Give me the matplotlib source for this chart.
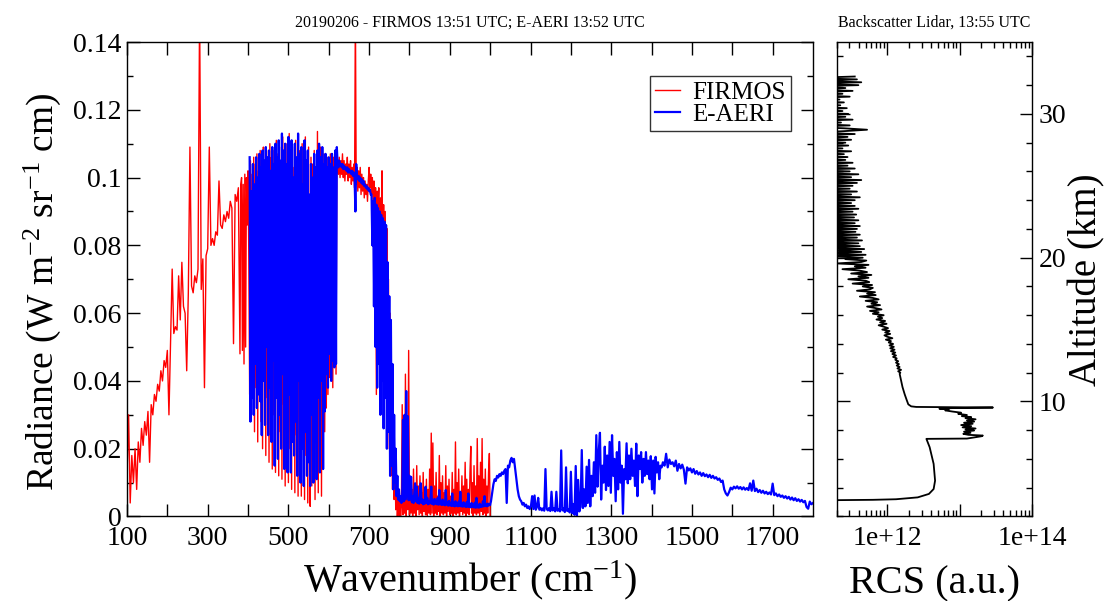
import numpy as np
import matplotlib
matplotlib.use("Agg")
import matplotlib.pyplot as plt
from matplotlib.ticker import MultipleLocator, FixedLocator, FuncFormatter, LogLocator, NullFormatter

plt.rcParams['font.family'] = ['Liberation Serif', 'DejaVu Serif']
plt.rcParams['mathtext.fontset'] = 'custom'
plt.rcParams['mathtext.rm'] = 'Liberation Serif'
plt.rcParams['mathtext.it'] = 'Liberation Serif:italic'

# ---- FIRMOS radiance (units of 1e-3 W m-2 sr-1 cm) ----
firmos_a_wn = (100, 380)
firmos_a = [12, 30, 4, 18, 10, 20, 8, 22, 16, 26, 21, 28, 24, 31, 16, 33, 30, 36,
            34, 39, 37, 43, 40, 46, 44, 49, 30, 52, 73, 54, 56, 55, 71, 58, 75, 62,
            60, 43, 66, 109, 68, 66, 71, 69, 73, 150, 67, 76, 38, 77, 79, 109, 80, 82,
            80, 84, 83, 99, 86, 85, 89, 87, 90, 88, 93, 91, 51, 95, 93, 97, 48]
firmos_b_wn = (382, 618)
firmos_b = [98, 100, 49, 98, 45, 101, 50, 100, 86, 102, 75,
            36, 105, 30, 101, 42, 106, 25, 104, 38, 107, 22, 102, 40, 108, 28, 104,
            20, 109, 45, 105, 18, 108, 35, 103, 16, 110, 40, 106, 14, 108, 30, 104,
            13, 111, 38, 107, 12, 109, 25, 105, 11, 112, 33, 106, 9, 110, 28, 104,
            10, 113, 20, 107, 8, 109, 30, 103, 7, 111, 24, 106, 6, 108, 35, 104,
            6, 110, 22, 105, 5, 112, 18, 103, 4, 109, 30, 3, 106, 9, 104, 26,
            108, 5, 102, 20, 113.6, 7, 105, 14, 109, 6, 104, 16, 107, 25, 103, 32,
            106, 36, 104, 41, 107, 43, 103, 38, 106, 47, 104, 42]
firmos_c_wn = (620, 698)
firmos_c = [108, 104, 101, 106, 100, 105, 101, 107, 100, 105, 99, 104, 101, 106,
            99, 104, 100, 105, 98, 103, 99, 104, 97, 150, 98, 103, 96, 102, 97, 103,
            95, 101, 96, 100, 94, 99, 95, 98, 93, 99]
firmos_d_wn = (700, 778)
firmos_d = [103, 97, 101, 95, 100, 93, 99, 90, 97, 36, 96, 88, 97, 45, 94, 84,
            102, 60, 92, 40, 90, 50, 85, 30, 70, 20, 60, 12, 45, 8, 30, 5, 20, 2,
            12, 0, 8, -1, 6, 0]
firmos_e_wn = (780, 1000)
firmos_e = [3, 33, 0.5, 12, 1, 42, 0, 28, 2, 49, 0.5, 10, 1, 8, -0.5, 14, 1, 6,
            0, 15, 2, 9, 0.5, 12, 1, 7, 0, 13, 1.5, 5, 0.5, 11, 0, 8, 1, 14, 0.5,
            24.6, 1, 21.7, 0, 9, 1, 13, 0.5, 6, 1.5, 18, 0, 10, 1, 12, 0.5, 7, 1,
            15, 0, 9, 1.5, 11, 0.5, 6, 1, 13, 0, 8, 1, 22, 0.5, 10, 1, 14, 0, 7,
            1.5, 12, 0.5, 9, 1, 16, 0, 11, 1, 8, 0.5, 13, 20.7, 1, 10, 0, 15, 1, 9,
            0.5, 23, 1, 12, 0, 16, 1.5, 23, 0.5, 11, 1, 14, 0, 9, 1, 13, 18.6, 0]

# ---- E-AERI radiance (units of 1e-3 W m-2 sr-1 cm) ----
aeri_a_wn = (404, 620)
aeri_a = [106, 28, 96, 35, 104, 30, 98, 45, 106, 32, 100, 36, 107, 34, 103, 24,
          108, 40, 105, 27, 109, 50, 106, 24, 108, 38, 102, 22, 109, 46, 104, 15,
          110, 35, 106, 17, 111, 30, 105, 20, 113, 42, 108, 14, 110, 26, 104, 13,
          112, 36, 108, 13, 111, 22, 100, 18, 110, 28, 106, 12, 113, 40, 107, 10,
          109, 20, 98, 9, 111, 25, 105, 12, 108, 16, 95, 9, 104, 30, 100, 10, 107,
          22, 103, 11, 108, 35, 110, 13, 106, 40, 109, 14, 104, 31, 107, 42, 103,
          38, 106, 48, 104, 40, 107, 46, 103, 44, 108, 45, 109]
aeri_b_wn = (622, 704)
aeri_b = [104, 103, 105, 103.5, 104, 103, 104, 102.5, 103.5, 102.5, 103, 102, 103,
          101.5, 102.5, 101.5, 102, 101, 102, 100.5, 101.5, 100, 90, 104, 100,
          99.5, 100.5, 99, 100, 98.5, 99.5, 98, 99, 97.5, 98, 97, 97.5, 96.5, 97,
          96, 96.5, 95]
aeri_c_wn = (706, 780)
aeri_c = [95, 80, 93, 62, 94, 50, 92, 38, 91, 45, 90, 30, 89, 40, 88, 26, 87, 35,
          86, 20, 75, 25, 65, 12, 58, 15, 45, 8, 30, 10, 20, 6, 12, 5, 8, 4.5, 6, 4]
aeri_d_wn = (782, 1000)
aeri_d = [5, 28.5, 4.5, 30, 5, 37, 6, 29.6, 4.8, 12, 5, 11.7, 4.2, 6, 4, 7, 9.8,
          4.5, 8.8, 4, 5.2, 3.8, 6.5, 9.8, 4, 5, 3.6, 4.8, 3.8, 8.8, 4, 5.5, 3.6,
          4.6, 3.8, 5, 8.8, 3.7, 4.6, 3.5, 5.2, 3.8, 4.4, 3.6, 5.5, 3.5, 7.8, 3.6,
          4.3, 3.4, 5, 3.5, 4.2, 3.3, 7.8, 3.5, 4.2, 3.2, 4.6, 3.3, 4, 3.1, 6.8,
          3.2, 4, 3, 4.5, 3.2, 3.8, 3, 4.4, 3.1, 7.3, 3, 3.8, 2.9, 4.2, 3, 3.6,
          2.8, 4.3, 2.9, 6.8, 2.8, 3.6, 2.7, 4, 2.8, 3.5, 2.7, 4.1, 2.6, 5.5, 2.7,
          3.4, 2.6, 3.8, 2.8, 3.3, 2.9, 4.5, 3, 6, 3.1, 3.6, 3, 3.8, 3.2, 3.5, 3.4]
aeri_e_wn = (1002, 1230)
aeri_e = [4.5, 7, 9.5, 11, 10.5, 12, 11.5, 12.5, 12, 13, 12.5, 13.5, 14, 4, 15,
          14.5, 16.5, 17.3, 16, 17, 14, 11, 8, 6, 5, 4.5, 3.5, 4, 3, 3.5, 2.5, 3,
          2.2, 3, 6, 2.2, 6.2, 2, 2.8, 5.5, 2, 2.5, 1.8, 2.4, 1.7, 14, 2.2, 1.8,
          2.5, 1.6, 7.3, 1.8, 2.4, 1.5, 7.3, 1.7, 2.2, 1.5, 19.5, 1.8, 2.5, 1.3,
          14.5, 1.6, 2.2, 1.2, 13.2, 1.0, 3.7, 0.5, 14.9, 0.2, 10.8, 1.5, 3, 19.6, 2.5]
aeri_f_wn = (1233, 1425)
aeri_f = [8, 3, 14.7, 4, 16.7, 3, 12, 6, 16, 7, 24, 8.8, 19, 24.7, 5, 15, 10, 20.6,
          7.8, 18, 9, 22, 7, 24, 12, 17, 4.5, 19, 8, 22, 10, 15, 0.8, 14, 11, 21.6,
          9.8, 18, 11, 20, 12, 16.5, 9, 21.5, 6, 18, 14, 19, 10, 17, 12, 19, 12.5,
          16.5, 11, 17.8, 8, 16.5, 6.8, 17.6, 13, 16, 11, 15, 14.5]
aeri_g_wn = (1428, 1800)
aeri_g = [16, 15, 18.5, 14.5, 16.8, 15.5, 16, 14.8, 16.5, 13.5, 15.5, 14.2, 15.3,
          13.8, 9.7, 14.5, 13.6, 14.2, 13, 14, 12.6, 13.4, 12.4, 13, 12, 12.8, 11.9,
          12.4, 11.6, 12.3, 11.4, 12, 11.2, 11.6, 10.8, 11.2, 10.2, 10.6, 8, 6.8,
          6.2, 7.2, 8.5, 8, 8.8, 8.3, 8.9, 8.2, 8.7, 8, 8.6, 7.9, 8.4, 7.8, 9.8, 7.6,
          10.6, 7.5, 8.2, 7.2, 7.8, 7, 7.6, 6.8, 7.3, 6.6, 7.1, 6.5, 9.7, 6.3, 6.8,
          6, 6.5, 5.8, 6.2, 5.5, 6, 5.3, 5.8, 5, 5.6, 4.8, 5.4, 4.6, 5.1, 4.4, 4.9,
          4.2, 4.6, 2.8, 2.3, 4.4, 3.6, 4]

# ---- Backscatter lidar profile: altitude (km) and log10(RCS) ----
lidar_low_alt = [3.10, 3.13, 3.16, 3.20, 3.33, 3.57, 3.91, 4.49, 5.66, 6.82, 7.40]
lidar_low_log = [10.5, 11.2, 11.8, 12.12, 12.42, 12.575, 12.64, 12.66, 12.64, 12.585, 12.54]
lidar_cloud_alt = [7.42, 7.50, 7.58, 7.63, 7.68, 7.75, 7.82, 7.90, 7.98, 8.05, 8.12,
                   8.20, 8.28, 8.36, 8.45, 8.52, 8.60, 8.68, 8.76, 8.84, 8.91, 8.98,
                   9.06, 9.14, 9.22, 9.30, 9.38, 9.45, 9.50, 9.54, 9.58, 9.62, 9.66,
                   9.80, 10.07, 10.50, 11.00, 11.46, 11.93]
lidar_cloud_log = [13.10, 13.20, 13.30, 13.32, 13.12, 13.05, 13.15, 13.06, 13.20,
                   13.08, 13.22, 13.04, 13.16, 13.02, 13.18, 13.06, 13.20, 13.10,
                   13.22, 13.08, 13.16, 13.03, 13.10, 12.98, 13.02, 12.90, 12.80,
                   12.85, 12.72, 12.90, 13.46, 12.40, 12.33, 12.29, 12.27, 12.24,
                   12.21, 12.19, 12.17]
lidar_high_alt = (12.0, 32.6)
lidar_high_log = [12.18, 12.15, 12.19, 12.14, 12.17, 12.13, 12.16, 12.12, 12.15, 12.11,
                  12.13, 12.08, 12.12, 12.07, 12.11, 12.05, 12.10, 12.04, 12.09, 12.03,
                  12.08, 12.02, 12.05, 11.98, 12.07, 12.00, 11.96, 12.04, 11.97, 12.03,
                  11.93, 12.01, 11.95, 11.88, 11.99, 11.90, 11.97, 11.85, 11.93, 11.87,
                  11.95, 11.80, 11.88, 11.76, 11.92, 11.83, 11.72, 11.90, 11.78, 11.86,
                  11.70, 11.88, 11.80, 11.62, 11.84, 11.72, 11.83, 11.58, 11.76, 11.80,
                  11.66, 11.79, 11.52, 11.75, 11.70, 11.46, 11.74, 11.60, 11.78, 11.50,
                  11.72, 11.62, 11.38, 11.70, 11.55, 11.74, 11.30, 11.64, 11.71, 11.42,
                  11.66, 11.15, 11.70, 11.10, 11.64, 11.20, 11.68, 11.05, 11.62, 11.10,
                  11.60, 11.00, 11.65, 11.10, 11.58, 11.00, 11.62, 11.05, 11.56, 11.00,
                  11.58, 11.00, 11.62, 11.05, 11.55, 10.95, 11.60, 11.00, 11.54, 11.00,
                  11.57, 10.95, 11.52, 11.00, 11.60, 10.90, 11.55, 11.00, 11.50, 10.95,
                  11.55, 10.90, 11.62, 11.00, 11.50, 10.90, 11.58, 10.95, 11.48, 10.90,
                  11.52, 10.90, 11.58, 11.00, 11.64, 10.90, 11.50, 10.95, 11.60, 10.90,
                  11.48, 10.90, 11.55, 11.00, 11.45, 10.90, 11.52, 10.95, 11.42, 10.90,
                  11.45, 10.90, 11.40, 11.00, 11.50, 10.90, 11.38, 10.95, 11.46, 10.90,
                  11.42, 10.90, 11.50, 11.00, 11.45, 10.90, 11.55, 10.95, 11.40, 11.72,
                  11.40, 10.90, 11.48, 11.00, 11.36, 10.90, 11.52, 10.95, 11.42, 10.90,
                  11.46, 10.90, 11.38, 11.00, 11.44, 10.90, 11.35, 10.95, 11.40, 10.90,
                  11.34, 10.90, 11.48, 11.00, 11.38, 10.90, 11.52, 10.95, 11.42, 10.90,
                  11.60, 10.90, 11.64, 11.00, 11.58, 10.90, 11.55]


def spectrum(parts):
    wn, rad = [], []
    for (w0, w1), vals in parts:
        wn.append(np.linspace(w0, w1, len(vals)))
        rad.append(np.array(vals) * 1e-3)
    return np.concatenate(wn), np.concatenate(rad)


firmos_wn, firmos_rad = spectrum([(firmos_a_wn, firmos_a), (firmos_b_wn, firmos_b),
                                  (firmos_c_wn, firmos_c), (firmos_d_wn, firmos_d),
                                  (firmos_e_wn, firmos_e)])
aeri_wn, aeri_rad = spectrum([(aeri_a_wn, aeri_a), (aeri_b_wn, aeri_b), (aeri_c_wn, aeri_c),
                              (aeri_d_wn, aeri_d), (aeri_e_wn, aeri_e), (aeri_f_wn, aeri_f),
                              (aeri_g_wn, aeri_g)])

lidar_alt = np.concatenate([lidar_low_alt, lidar_cloud_alt,
                            np.linspace(lidar_high_alt[0], lidar_high_alt[1], len(lidar_high_log))])
lidar_rcs = 10.0 ** np.concatenate([lidar_low_log, lidar_cloud_log, lidar_high_log])

fig = plt.figure(figsize=(11.09, 6.01), dpi=100)
ax = fig.add_axes([0.1145, 0.1406, 0.6186, 0.7895])
ax2 = fig.add_axes([0.7545, 0.1406, 0.1761, 0.7895])

ax.plot(firmos_wn, firmos_rad, color='#ff0000', lw=1.0, label='FIRMOS')
ax.plot(aeri_wn, aeri_rad, color='#0000ff', lw=1.6, label='E-AERI')
ax.set_xlim(100, 1800)
ax.set_ylim(0, 0.14)
ax.xaxis.set_major_locator(FixedLocator(np.arange(100, 1801, 200)))
ax.xaxis.set_minor_locator(FixedLocator(np.arange(200, 1800, 200)))
ax.yaxis.set_major_locator(MultipleLocator(0.02))
ax.yaxis.set_minor_locator(MultipleLocator(0.01))
ax.yaxis.set_major_formatter(FuncFormatter(lambda v, p: '0' if v == 0 else ('%.2f' % v).rstrip('0')))
ax.tick_params(which='both', direction='in', top=True, right=True, labelsize=20, width=1)
ax.tick_params(axis='x', which='both', length=9, pad=7)
ax.tick_params(axis='y', which='major', length=9, pad=4)
ax.tick_params(axis='y', which='minor', length=4.5)
ax.set_xlabel(r'Wavenumber (cm$^{-1}$)', fontsize=29, labelpad=5)
ax.set_ylabel(r'Radiance (W m$^{-2}$ sr$^{-1}$ cm)', fontsize=27)
ax.yaxis.set_label_coords(-0.093, 0.473)
ax.set_title('20190206 - FIRMOS 13:51 UTC; E-AERI 13:52 UTC', fontsize=11.5, pad=11)
leg = ax.legend(loc='upper right', bbox_to_anchor=(0.968, 0.928), borderaxespad=0,
                fontsize=18, frameon=True, fancybox=False, edgecolor='black',
                handlelength=1.0, handletextpad=0.5, labelspacing=0.0, borderpad=0.2)
leg.get_frame().set_linewidth(1.0)

ax2.plot(lidar_rcs, lidar_alt, color='black', lw=1.3)
ax2.set_xscale('log')
ax2.set_xlim(2e11, 1e14)
ax2.set_ylim(2, 35)
ax2.xaxis.set_major_locator(FixedLocator([1e12, 1e13, 1e14]))
ax2.xaxis.set_major_formatter(FuncFormatter(
    lambda v, p: {1e12: '1e+12', 1e14: '1e+14'}.get(v, '')))
ax2.xaxis.set_minor_locator(LogLocator(base=10, subs=range(2, 10), numticks=20))
ax2.xaxis.set_minor_formatter(NullFormatter())
ax2.yaxis.set_major_locator(MultipleLocator(10))
ax2.yaxis.set_minor_locator(MultipleLocator(2))
ax2.tick_params(which='both', direction='in', top=True, right=True, left=True,
                labelleft=False, labelright=True, labelsize=20, width=1)
ax2.tick_params(which='major', length=9)
ax2.tick_params(which='minor', length=4)
ax2.tick_params(axis='x', pad=7)
ax2.tick_params(axis='y', pad=5)
ax2.yaxis.set_label_position('right')
ax2.set_ylabel('Altitude (km)', fontsize=28, labelpad=1)
ax2.set_xlabel('RCS (a.u.)', fontsize=29, labelpad=10)
ax2.set_title('Backscatter Lidar, 13:55 UTC', fontsize=11.5, pad=11)

for a in (ax, ax2):
    for s in a.spines.values():
        s.set_linewidth(1.0)

fig.savefig('out.png', dpi=100)
